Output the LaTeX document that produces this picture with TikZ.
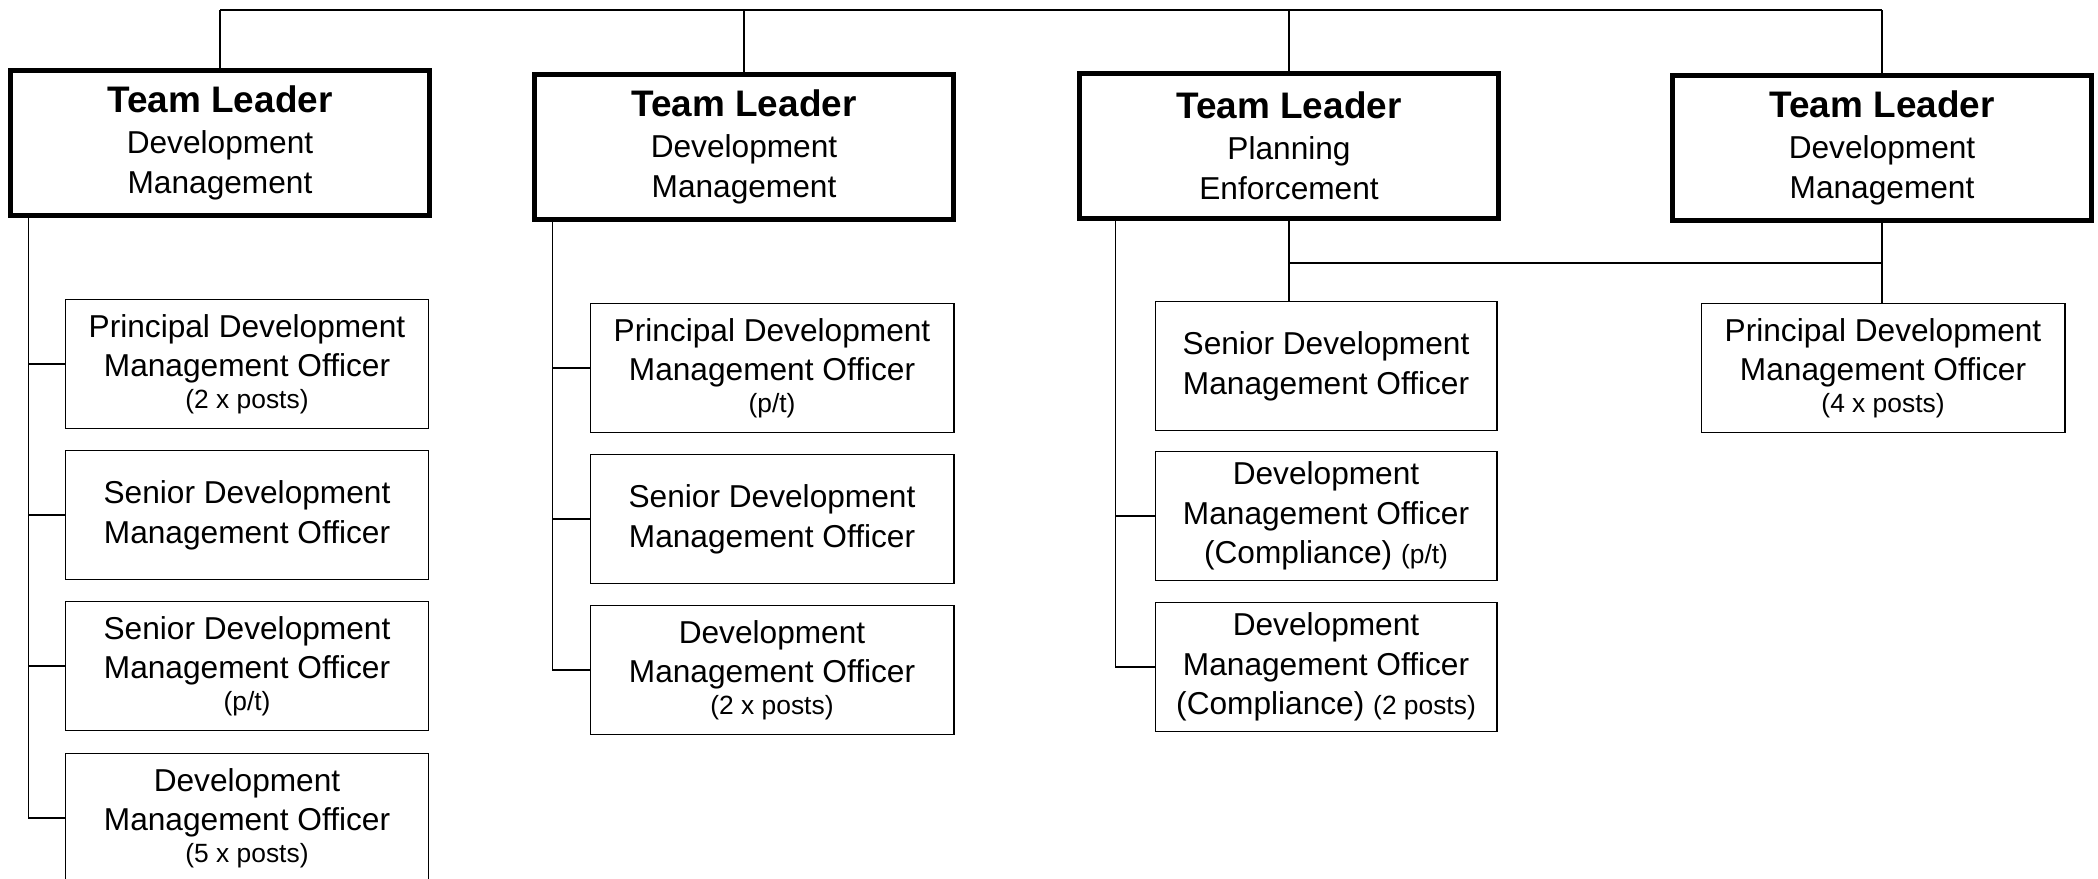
\documentclass[tikz,border=0pt]{standalone}
\usepackage{fontspec}
\setmainfont{Liberation Sans}
\newcommand{\smalltxt}[1]{{\fontsize{7.5}{9}\selectfont #1}}
\newcommand{\leadtxt}{{\fontsize{10.5}{12}\selectfont\bfseries Team Leader}}
\begin{document}
\begin{tikzpicture}[x=0.01cm, y=-0.01cm,
  lead/.style={draw, line width=1.4pt, minimum width=4.18cm, minimum height=1.45cm,
    align=center, inner sep=0pt, font=\fontsize{9}{11.3}\selectfont},
  post/.style={draw, line width=0.5pt, minimum width=3.63cm, minimum height=1.29cm,
    align=center, inner sep=0pt, font=\fontsize{9}{11.3}\selectfont},
  tie/.style={line width=0.5pt}]
      \useasboundingbox (0,0) rectangle (2098,878);
      \coordinate (bus) at (0,10);
      \coordinate (bar) at (0,263);
      \node[lead] (t1) at ( 220,143) {\leadtxt\\[0.4pt]Development\\Management};
      \node[lead] (t2) at ( 744,147) {\leadtxt\\[0.4pt]Development\\Management};
      \node[lead] (t3) at (1289,146) {\leadtxt\\[0.4pt]Planning\\Enforcement};
      \node[lead] (t4) at (1882,148) {\leadtxt\\[0.4pt]Development\\Management};
      \node[post] (c1a) at (247,364) {Principal Development\\Management Officer\\[-2.4pt]\smalltxt{(2 x posts)}};
      \node[post] (c1b) at (247,515) {Senior Development\\Management Officer};
      \node[post] (c1c) at (247,666) {Senior Development\\Management Officer\\[-2.4pt]\smalltxt{(p/t)}};
      \node[post] (c1d) at (247,818) {Development\\Management Officer\\[-2.4pt]\smalltxt{(5 x posts)}};
      \node[post] (c2a) at (772,368) {Principal Development\\Management Officer\\[-2.4pt]\smalltxt{(p/t)}};
      \node[post] (c2b) at (772,519) {Senior Development\\Management Officer};
      \node[post] (c2c) at (772,670) {Development\\Management Officer\\[-2.4pt]\smalltxt{(2 x posts)}};
      \node[post, minimum width=3.41cm] (c3a) at (1326,366) {Senior Development\\Management Officer};
      \node[post, minimum width=3.41cm] (c3b) at (1326,516) {Development\\Management Officer\\(Compliance) \smalltxt{(p/t)}};
      \node[post, minimum width=3.41cm] (c3c) at (1326,667) {Development\\Management Officer\\(Compliance) \smalltxt{(2 posts)}};
      \node[post] (c4) at (1883,368) {Principal Development\\Management Officer\\[-2.4pt]\smalltxt{(4 x posts)}};
      \draw[tie] (t1.north |- bus) -- (t4.north |- bus);
      \foreach \t in {t1,t2,t3,t4} \draw[tie] (\t.north) -- (\t.north |- bus);
      \foreach \c in {c1a,c1b,c1c,c1d} \draw[tie] ([xshift=2mm]t1.south west) |- (\c.west);
      \foreach \c in {c2a,c2b,c2c} \draw[tie] ([xshift=2mm]t2.south west) |- (\c.west);
      \foreach \c in {c3b,c3c} \draw[tie] ([xshift=3.8mm]t3.south west) |- (\c.west);
      \draw[tie] (t3.south) -- (t3.south |- c3a.north);
      \draw[tie] (t4.south) -- (t4.south |- c4.north);
      \draw[tie] (t3.south |- bar) -- (t4.south |- bar);
\end{tikzpicture}
\end{document}
